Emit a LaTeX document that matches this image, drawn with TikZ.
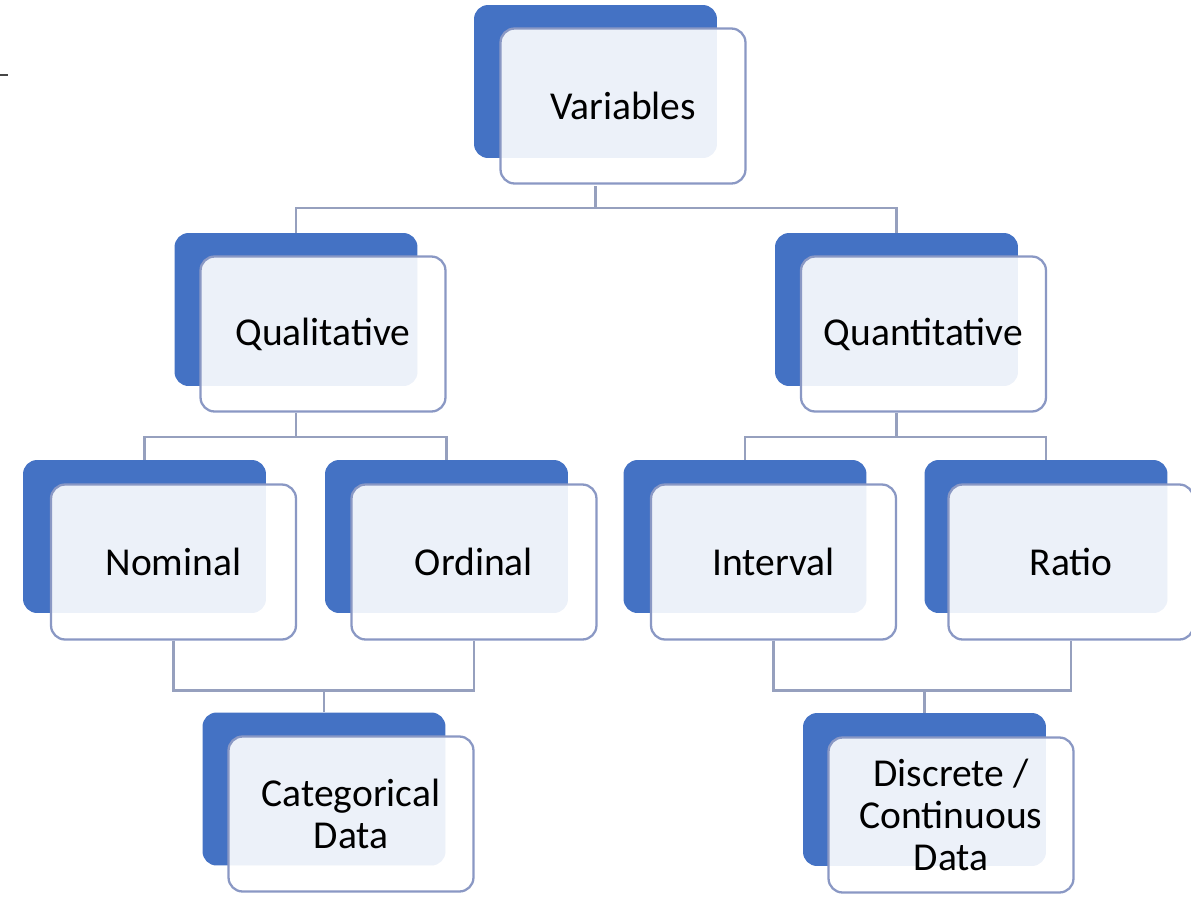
\documentclass[tikz,border=0pt]{standalone}
\usepackage{fontspec}
\setmainfont{Carlito}
\usetikzlibrary{calc,positioning}
\definecolor{boxBlue}{RGB}{68,114,196}
\definecolor{boxEdge}{RGB}{138,152,196}
\definecolor{linkGrey}{RGB}{150,160,190}
\definecolor{tickGrey}{RGB}{70,70,70}

\begin{document}
\begin{tikzpicture}[x=0.02cm, y=-0.02cm,
  backbox/.style={rounded corners=8pt, fill=boxBlue, draw=none,
     minimum width=4.86cm, minimum height=3.06cm},
  frontbox/.style={rounded corners=8pt, fill=white, fill opacity=0.9, text opacity=1,
     draw=boxEdge, line width=1.3pt, align=center,
     minimum width=4.9cm, minimum height=3.1cm,
     font=\fontsize{22.5}{24}\selectfont},
  link/.style={draw=linkGrey, line width=1.4pt}]
  \useasboundingbox (0,0) rectangle (1191,897);
  % stray tick at the left edge
  \draw[tickGrey, line width=1.2pt] (0,75) -- (8,75);
  % back boxes
  \node[backbox] (varB)  at (595.5,81.5)  {};
  \node[backbox] (qualB) at (296,309.5)   {};
  \node[backbox] (quanB) at (896.5,309.5) {};
  \node[backbox] (nomB)  at (144.5,536.5) {};
  \node[backbox] (ordB)  at (446.5,536.5) {};
  \node[backbox] (intB)  at (745,536.5)   {};
  \node[backbox] (ratB)  at (1046,536.5)  {};
  \node[backbox] (catB)  at (324,789)     {};
  \node[backbox] (disB)  at (924.5,789.5) {};
  % connectors
  \draw[link] (varB.center |- 0,186) -- ++(0,22) coordinate (varJ) -| (qualB.north);
  \draw[link] (varJ) -| (quanB.north);
  \draw[link] (qualB.center |- 0,413) -- ++(0,24) coordinate (qualJ) -| (nomB.north);
  \draw[link] (qualJ) -| (ordB.north);
  \draw[link] (quanB.center |- 0,413) -- ++(0,24) coordinate (quanJ) -| (intB.north);
  \draw[link] (quanJ) -| (ratB.north);
  % front boxes
  \node[frontbox] (var)  at (623,106)   {Variables};
  \node[frontbox] (qual) at (323,334)   {Qualitative};
  \node[frontbox] (quan) at (923.5,334) {Quantitative};
  \node[frontbox] (nom)  at (173.5,562) {Nominal};
  \node[frontbox] (ord)  at (474,562)   {Ordinal};
  \node[frontbox] (int)  at (773.5,562) {Interval};
  \node[frontbox] (rat)  at (1071,562)  {Ratio};
  \node[frontbox] (cat)  at (351,814)   {Categorical\\Data};
  \node[frontbox] (dis)  at (951,815)   {Discrete /\\Continuous\\Data};
  % lower joins
  \draw[link] (nom.south) -- ++(0,50) coordinate (nomJ) -| (ord.south);
  \draw[link] (catB.north) -- (catB.north |- nomJ);
  \draw[link] (int.south) -- ++(0,50) coordinate (intJ) -| (rat.south);
  \draw[link] (disB.north) -- (disB.north |- intJ);
\end{tikzpicture}
\end{document}
